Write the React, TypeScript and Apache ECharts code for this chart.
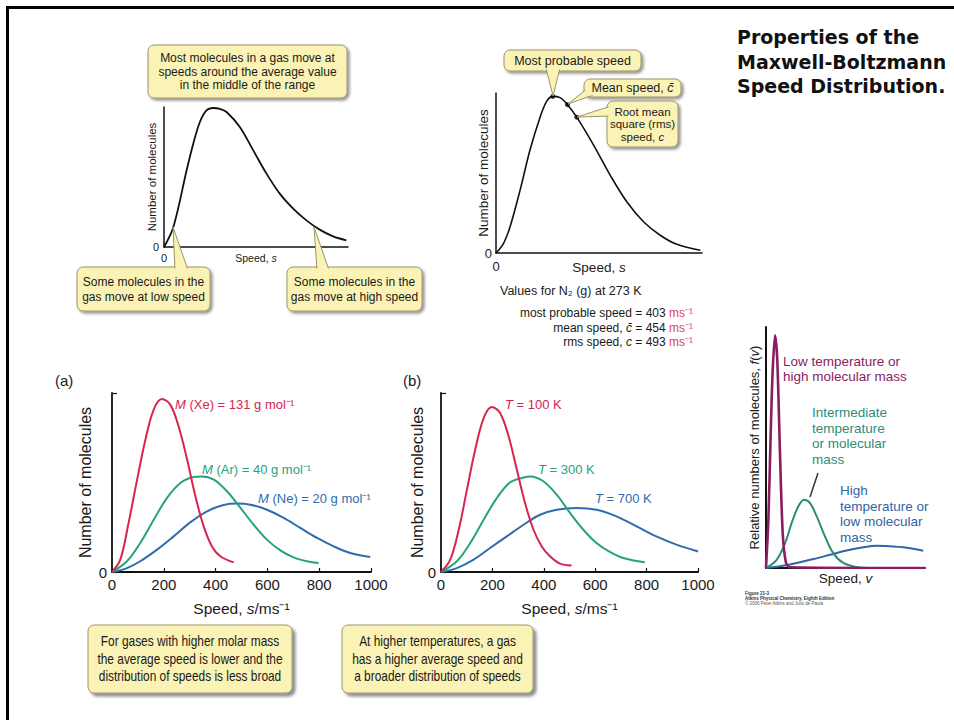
import React, { useEffect, useRef } from 'react';
import * as echarts from 'echarts';

// ---------------- data ----------------
// top-left generic distribution (relative units)
const genSpeed = [0, 5.1, 12.3, 15.9, 19.5, 23.1, 26.8, 30.4, 34.0, 41.2, 48.5, 55.7, 62.9, 70.2, 77.4, 84.6, 91.9, 99.1];
const genCount = [0, 14.3, 54.8, 73.8, 89.3, 97.6, 99.3, 98.6, 96.4, 85.7, 69.0, 52.4, 38.1, 27.4, 19.0, 12.4, 7.6, 4.8];

// top-middle N2 distribution (relative units)
const n2Speed = [0, 3.6, 6.8, 11.7, 16.5, 21.4, 24.6, 27.6, 31.1, 34.7, 39.2, 47.3, 55.4, 63.5, 71.6, 79.7, 87.8, 99.2];
const n2Count = [0, 5.9, 16.3, 39.3, 64.4, 84.9, 94.8, 97.9, 97.1, 92.7, 84.9, 67.6, 48.7, 32.0, 19.5, 11.1, 5.4, 1.7];
const n2MarkSpeed = [27.6, 34.7, 39.2];
const n2MarkCount = [97.9, 92.7, 84.9];

// (a) molar mass, speed in m/s
const xeSpeed = [0, 32, 64, 97, 129, 161, 193, 225, 257, 290, 322, 354, 386, 418, 470];
const xeCount = [0, 6.9, 27.4, 51.6, 73.9, 90.7, 96.6, 93.5, 81.4, 62.8, 42.3, 25.5, 14.3, 8.8, 5.4];
const arSpeed = [0, 58, 109, 161, 212, 264, 315, 347, 393, 444, 496, 547, 598, 650, 701, 753, 798];
const arCount = [0, 6.0, 16.2, 29.2, 41.3, 49.7, 53.1, 53.4, 51.6, 45.1, 35.8, 26.4, 18.1, 12.1, 8.2, 6.0, 5.0];
const neSpeed = [0, 58, 109, 174, 238, 302, 367, 431, 483, 534, 598, 663, 727, 792, 856, 920, 997];
const neCount = [0, 2.2, 6.0, 12.5, 19.9, 27.7, 33.9, 37.4, 38.2, 37.6, 34.8, 30.2, 24.6, 19.0, 14.3, 10.6, 8.4];

// (b) temperature, speed in m/s
const t100Speed = [0, 36, 69, 101, 133, 166, 198, 230, 263, 295, 327, 360, 392, 424, 463, 508];
const t100Count = [0, 6.9, 23.6, 46.0, 68.3, 86.0, 92.2, 88.8, 75.8, 57.2, 38.5, 23.6, 14.3, 8.8, 4.7, 3.7];
const t300Speed = [0, 62, 114, 166, 217, 269, 321, 347, 398, 450, 502, 554, 605, 657, 709, 793];
const t300Count = [0, 6.0, 16.2, 29.2, 41.3, 50.1, 52.8, 53.4, 50.7, 43.2, 33.0, 23.6, 16.2, 11.2, 7.8, 5.4];
const t700Speed = [0, 62, 127, 191, 256, 321, 386, 450, 528, 605, 683, 761, 838, 916, 1000];
const t700Count = [0, 2.2, 6.9, 13.4, 19.9, 26.4, 32.0, 34.8, 35.8, 34.8, 31.1, 25.5, 19.9, 15.3, 11.5];

// right: relative f(v)
const lowSpeed = [0, 1.5, 2.9, 4.2, 5.7, 7.1, 8.8, 10.5, 12.6, 15.1, 100];
const lowCount = [0, 20, 54.5, 82, 96.6, 86.2, 47.6, 14.5, 2.1, 0.3, 0];
const midSpeed = [0, 6.7, 12, 16.1, 20.3, 23.9, 27.7, 31.9, 37.1, 42.3, 48.6, 57, 65.4];
const midCount = [0, 3.4, 10.3, 18.6, 25.5, 28.3, 26.9, 21.4, 13.1, 6.2, 2.1, 0.4, 0];
const highSpeed = [0, 8.8, 19.3, 29.8, 40.3, 50.7, 61.2, 69.6, 77.9, 86.4, 98.9];
const highCount = [0, 0.7, 2.1, 3.7, 5.5, 7.3, 8.6, 9.2, 9.0, 8.6, 7.2];

const speedTicks = [0, 200, 400, 600, 800, 1000];
const zeroOnly = [0];

// ---------------- styles ----------------
const SANS = '"Liberation Sans", Arial, Helvetica, sans-serif';
const INK = '#1a1a1a';
const RED = '#d6264f';
const GREEN = '#27a27b';
const BLUE = '#2e6dad';
const PURPLE = '#8a1c5f';
const TEAL = '#2e8c78';
const BLUE2 = '#2f64a6';
const UNIT_RED = '#e0406a';
const BOX_FILL = '#fbf3b6';
const BOX_STROKE = '#9b9468';

const zip = (xs: number[], ys: number[]) => xs.map((x, i) => [x, ys[i]]);

const richFor = (fs: number, family: string, fill = INK) => ({
  t: { fontSize: fs, fontFamily: family, fill },
  i: { fontSize: fs, fontFamily: family, fill, fontStyle: 'italic' },
  r: { fontSize: fs, fontFamily: family, fill: UNIT_RED },
});

function callout(
  x: number, y: number, w: number, h: number,
  lines: string[], fs: number, lh: number,
  pointer: number[][] | null, condense = 1, shadow = 2
) {
  const els: any[] = [];
  els.push({
    type: 'rect', z: 100, shape: { x, y, width: w, height: h, r: 6 },
    style: { fill: BOX_FILL, stroke: BOX_STROKE, lineWidth: 1, shadowBlur: 3, shadowOffsetX: shadow, shadowOffsetY: shadow, shadowColor: 'rgba(0,0,0,0.45)' },
  });
  if (pointer) {
    els.push({ type: 'polygon', z: 101, shape: { points: pointer }, style: { fill: BOX_FILL, stroke: BOX_STROKE, lineWidth: 1 } });
  }
  els.push({ type: 'rect', z: 102, shape: { x: x + 1.5, y: y + 1.5, width: w - 3, height: h - 3, r: 5 }, style: { fill: BOX_FILL } });
  const cx = x + w / 2;
  const cy = y + h / 2;
  lines.forEach((t, i) => {
    els.push({
      type: 'text', z: 103,
      x: cx, y: cy + (i - (lines.length - 1) / 2) * lh, scaleX: condense,
      style: {
        text: t, x: 0, y: 0,
        align: 'center', verticalAlign: 'middle', fontSize: fs, fontFamily: SANS, fill: INK,
        rich: richFor(fs, SANS),
      },
    });
  });
  return els;
}

function label(text: string, x: number, y: number, fs: number, fill: string, opts: any = {}) {
  return {
    type: 'text', z: 103,
    style: {
      text, x, y, fill, fontSize: fs, fontFamily: opts.family || SANS, fontWeight: opts.weight || 'normal',
      align: opts.align || 'left', verticalAlign: opts.valign || 'middle', lineHeight: opts.lh,
      rich: richFor(fs, opts.family || SANS, fill),
    },
  };
}

const axisName = (fs: number) => ({
  fontSize: fs, fontFamily: SANS, color: INK,
  rich: {
    n: { fontSize: fs, fontFamily: SANS, color: INK },
    i: { fontSize: fs, fontFamily: SANS, color: INK, fontStyle: 'italic' },
  },
});

const zeroFmt = (v: number) => (zeroOnly.includes(v) ? String(v) : '');
const plainFmt = (v: number) => (speedTicks.includes(v) ? String(v) : '');

function baseAxis(grid: number, lw: number) {
  return {
    gridIndex: grid, type: 'value',
    axisLine: { show: true, onZero: false, lineStyle: { color: '#111', width: lw } },
    splitLine: { show: false },
    axisTick: { show: false },
    nameLocation: 'middle',
    nameMoveOverlap: false,
  };
}

function lineSeries(idx: number, xs: number[], ys: number[], color: string, width: number, smooth = 0.35) {
  return {
    type: 'line', xAxisIndex: idx, yAxisIndex: idx, data: zip(xs, ys),
    showSymbol: false, symbol: 'none', smooth, silent: true,
    lineStyle: { color, width }, itemStyle: { color },
  };
}

export default function App() {
  const ref = useRef<HTMLDivElement>(null);
  useEffect(() => {
    if (!ref.current) return;
    const chart = echarts.init(ref.current, null, { renderer: 'svg' });

    const g: any[] = [];
    // frame
    g.push({ type: 'line', z: 120, shape: { x1: 6, y1: 7.5, x2: 954, y2: 7.5 }, style: { stroke: '#000', lineWidth: 3 } });
    g.push({ type: 'line', z: 120, shape: { x1: 7.5, y1: 6, x2: 7.5, y2: 720 }, style: { stroke: '#000', lineWidth: 3 } });

    // title
    g.push(label('Properties of the\nMaxwell-Boltzmann\nSpeed Distribution.', 737, 25, 19, '#111',
      { family: '"Comic Sans MS", "DejaVu Sans", sans-serif', weight: 'bold', valign: 'top', lh: 24.5 }));

    // chart 1 callouts
    g.push(...callout(148, 45, 199, 53,
      ['Most molecules in a gas move at', 'speeds around the average value', 'in the middle of the range'], 12, 13.5, null));
    g.push(...callout(77, 267, 133, 44, ['Some molecules in the', 'gas move at low speed'], 12, 15,
      [[175, 270], [173, 227], [188, 270]]));
    g.push(...callout(287, 267, 135, 44, ['Some molecules in the', 'gas move at high speed'], 12, 15,
      [[317, 270], [314, 227], [329, 270]]));

    // chart 2 callouts
    g.push(...callout(504, 50, 137, 21, ['Most probable speed'], 12.5, 14, [[546, 68], [553, 96], [560, 68]]));
    g.push(...callout(584, 79, 97, 18, ['{t|Mean speed, }{i|c\u0304}'], 12.5, 14, [[588, 88], [568, 104], [596, 94]]));
    g.push(...callout(607, 101, 71, 46, ['Root mean', 'square (rms)', '{t|speed, }{i|c}'], 11.5, 12.5,
      [[611, 106], [577, 117], [611, 116]]));

    // N2 values
    g.push(label('{t|Values for N\u2082 (g) at 273 K}', 500, 291, 12.5, INK));
    g.push(label('{t|most probable speed = 403}{r| ms\u207B\u00B9}', 693, 313, 12, INK, { align: 'right' }));
    g.push(label('{t|mean speed, }{i|c\u0304}{t| = 454}{r| ms\u207B\u00B9}', 693, 328, 12, INK, { align: 'right' }));
    g.push(label('{t|rms speed, }{i|c}{t| = 493}{r| ms\u207B\u00B9}', 693, 342, 12, INK, { align: 'right' }));

    // panel letters
    g.push(label('(a)', 55, 380, 15, INK));
    g.push(label('(b)', 403, 380, 15, INK));

    // curve labels (a)
    g.push(label('{i|M}{t| (Xe) = 131 g mol\u207B\u00B9}', 175, 404, 13, RED));
    g.push(label('{i|M}{t| (Ar) = 40 g mol\u207B\u00B9}', 202, 469, 13, GREEN));
    g.push(label('{i|M}{t| (Ne) = 20 g mol\u207B\u00B9}', 258, 498, 13, BLUE));
    // curve labels (b)
    g.push(label('{i|T}{t| = 100 K}', 505, 404, 13, RED));
    g.push(label('{i|T}{t| = 300 K}', 538, 469, 13, GREEN));
    g.push(label('{i|T}{t| = 700 K}', 595, 498, 13, BLUE));

    // bottom callouts
    g.push(...callout(88, 625, 204, 68,
      ['For gases with higher molar mass', 'the average speed is lower and the', 'distribution of speeds is less broad'],
      14, 17.5, null, 0.85, 3));
    g.push(...callout(342, 625, 191, 68,
      ['At higher temperatures, a gas', 'has a higher average speed and', 'a broader distribution of speeds'],
      14, 17.5, null, 0.85, 3));

    // right chart labels
    g.push(label('Low temperature or\nhigh molecular mass', 783, 369, 13.5, PURPLE, { lh: 15 }));
    g.push(label('Intermediate\ntemperature\nor molecular\nmass', 812, 436, 13.5, TEAL, { lh: 15.6 }));
    g.push({ type: 'line', z: 103, shape: { x1: 818, y1: 473, x2: 810, y2: 497 }, style: { stroke: '#333', lineWidth: 1.5 } });
    g.push(label('High\ntemperature or\nlow molecular\nmass', 840, 514, 13.5, BLUE2, { lh: 15.7 }));
    // tiny figure caption
    g.push(label('Figure 21-3', 745, 593, 4.5, '#333', { weight: 'bold' }));
    g.push(label('Atkins Physical Chemistry, Eighth Edition', 745, 598, 4.5, '#333', { weight: 'bold' }));
    g.push(label('\u00A9 2006 Peter Atkins and Julio de Paula', 745, 603, 4.5, '#555'));

    const option: any = {
      animation: false,
      backgroundColor: '#ffffff',
      grid: [
        { left: 164, top: 107, width: 184, height: 140, outerBoundsMode: 'none' },
        { left: 496, top: 93, width: 206, height: 160, outerBoundsMode: 'none' },
        { left: 112, top: 393, width: 259, height: 179, outerBoundsMode: 'none' },
        { left: 441, top: 393, width: 257, height: 179, outerBoundsMode: 'none' },
        { left: 766, top: 327, width: 159, height: 241, outerBoundsMode: 'none' },
      ],
      xAxis: [
        {
          ...baseAxis(0, 1.5), min: 0, max: 100, interval: 100,
          axisLabel: { formatter: zeroFmt, fontSize: 11, color: INK, fontFamily: SANS, margin: 5 },
          name: '{n|Speed, }{i|s}', nameGap: 5, nameTextStyle: axisName(10.5),
        },
        {
          ...baseAxis(1, 1.5), min: 0, max: 100, interval: 100,
          axisLabel: { formatter: zeroFmt, fontSize: 13, color: INK, fontFamily: SANS, margin: 7 },
          name: '{n|Speed, }{i|s}', nameGap: 7, nameTextStyle: axisName(13.5),
        },
        {
          ...baseAxis(2, 1.8), min: speedTicks[0], max: speedTicks[speedTicks.length - 1], interval: speedTicks[1] - speedTicks[0],
          axisTick: { show: true, inside: true, length: 4, lineStyle: { color: '#111', width: 1.2 } },
          axisLabel: { formatter: plainFmt, fontSize: 15, color: INK, fontFamily: SANS, margin: 5 },
          name: '{n|Speed, }{i|s}{n|/ms\u207B\u00B9}', nameGap: 28, nameTextStyle: axisName(15.5),
        },
        {
          ...baseAxis(3, 1.8), min: speedTicks[0], max: speedTicks[speedTicks.length - 1], interval: speedTicks[1] - speedTicks[0],
          axisTick: { show: true, inside: true, length: 4, lineStyle: { color: '#111', width: 1.2 } },
          axisLabel: { formatter: plainFmt, fontSize: 15, color: INK, fontFamily: SANS, margin: 5 },
          name: '{n|Speed, }{i|s}{n|/ms\u207B\u00B9}', nameGap: 28, nameTextStyle: axisName(15.5),
        },
        {
          ...baseAxis(4, 2), min: 0, max: 100,
          axisLabel: { show: false },
          name: '{n|Speed, }{i|v}', nameGap: 3, nameTextStyle: axisName(13.5),
        },
      ],
      yAxis: [
        {
          ...baseAxis(0, 1.5), min: 0, max: 100, interval: 100,
          axisLabel: { formatter: zeroFmt, fontSize: 11, color: INK, fontFamily: SANS, margin: 5 },
          name: 'Number of molecules', nameGap: 6, nameTextStyle: axisName(11.5),
        },
        {
          ...baseAxis(1, 1.5), min: 0, max: 100, interval: 100,
          axisLabel: { formatter: zeroFmt, fontSize: 13, color: INK, fontFamily: SANS, margin: 4 },
          name: 'Number of molecules', nameGap: 6, nameTextStyle: axisName(13.5),
        },
        {
          ...baseAxis(2, 1.8), min: 0, max: 100, interval: 100,
          axisTick: { show: true, inside: true, length: 5, lineStyle: { color: '#111', width: 1.2 } },
          axisLabel: { formatter: zeroFmt, fontSize: 15, color: INK, fontFamily: SANS, margin: 5 },
          name: 'Number of molecules', nameGap: 19, nameTextStyle: axisName(16),
        },
        {
          ...baseAxis(3, 1.8), min: 0, max: 100, interval: 100,
          axisTick: { show: true, inside: true, length: 5, lineStyle: { color: '#111', width: 1.2 } },
          axisLabel: { formatter: zeroFmt, fontSize: 15, color: INK, fontFamily: SANS, margin: 5 },
          name: 'Number of molecules', nameGap: 16, nameTextStyle: axisName(16),
        },
        {
          ...baseAxis(4, 2), min: 0, max: 100,
          axisLabel: { show: false },
          name: '{n|Relative numbers of molecules, }{i|f}{n|(}{i|v}{n|)}', nameGap: 5, nameTextStyle: axisName(13),
        },
      ],
      series: [
        lineSeries(0, genSpeed, genCount, '#111', 1.8),
        lineSeries(1, n2Speed, n2Count, '#111', 1.6),
        {
          type: 'scatter', xAxisIndex: 1, yAxisIndex: 1, data: zip(n2MarkSpeed, n2MarkCount),
          symbolSize: 5, itemStyle: { color: '#000' }, z: 5, silent: true,
        },
        lineSeries(2, neSpeed, neCount, BLUE, 2),
        lineSeries(2, arSpeed, arCount, GREEN, 2),
        lineSeries(2, xeSpeed, xeCount, RED, 2),
        lineSeries(3, t700Speed, t700Count, BLUE, 2),
        lineSeries(3, t300Speed, t300Count, GREEN, 2),
        lineSeries(3, t100Speed, t100Count, RED, 2),
        lineSeries(4, highSpeed, highCount, BLUE2, 2),
        lineSeries(4, midSpeed, midCount, TEAL, 2),
        lineSeries(4, lowSpeed, lowCount, PURPLE, 2.6, 0.25),
      ],
      graphic: { elements: g },
    };
    chart.setOption(option);
    return () => chart.dispose();
  }, []);

  return (
    <div
      ref={ref}
      style={{ position: 'fixed', left: 0, top: 0, width: 954, height: 720, background: '#fff' }}
    />
  );
}
